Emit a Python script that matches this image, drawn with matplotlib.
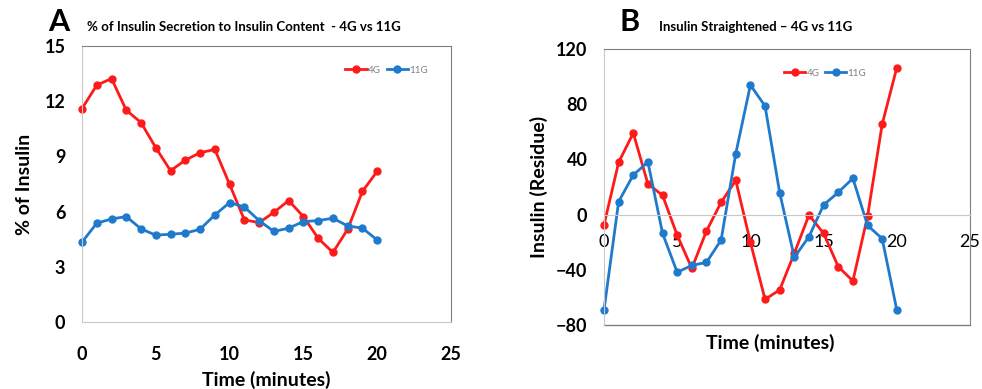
import matplotlib.pyplot as plt
from matplotlib.lines import Line2D

plt.rcParams['font.family'] = ['Lato', 'DejaVu Sans']

time = list(range(21))

# panel A: % of insulin secretion to insulin content
pct_4g = [11.6, 12.87, 13.23, 11.51, 10.84, 9.47, 8.22, 8.8, 9.2, 9.38, 7.48,
          5.55, 5.4, 5.96, 6.6, 5.73, 4.55, 3.78, 5.04, 7.1, 8.19]
pct_11g = [4.34, 5.37, 5.6, 5.73, 5.06, 4.72, 4.77, 4.83, 5.04, 5.82, 6.49,
           6.25, 5.51, 4.92, 5.1, 5.46, 5.51, 5.64, 5.22, 5.1, 4.46]

# panel B: insulin straightened (residue)
res_4g = [-7.5, 37.9, 59.1, 22.2, 14, -15, -38.9, -11.9, 8.9, 24.8, -20,
          -61.4, -54.6, -28, -0.3, -13.6, -37.7, -48.1, -1.3, 65.4, 106.5]
res_11g = [-69.1, 9.4, 28.7, 38.1, -13.6, -41.8, -36.8, -34.6, -18.4, 44.2, 93.9,
           78.7, 15.9, -31, -16, 7, 16.1, 26.3, -7.8, -17.4, -69.1]

xticks = [0, 5, 10, 15, 20, 25]
red = '#ff1a1a'
blue = '#1f7acc'
light = '#c8c8c8'
dark = '#808080'

fig = plt.figure(figsize=(9.82, 3.89), dpi=100)
W, H = 982, 389

def make_ax(l, r, t, b):
    return fig.add_axes([l / W, 1 - b / H, (r - l) / W, (b - t) / H])

def draw_lines(ax, y1, y2, leg_x):
    ax.plot(time, y1, color=red, lw=2, marker='o', ms=5, label='4G', clip_on=False)
    ax.plot(time, y2, color=blue, lw=2, marker='o', ms=5, label='11G', clip_on=False)
    leg = ax.legend(loc='upper right', ncol=2, frameon=False, fontsize=7,
                    handlelength=2.2, columnspacing=0.6, handletextpad=0.1,
                    bbox_to_anchor=(leg_x, 0.96))
    for t in leg.get_texts():
        t.set_color('#808080')
    ax.tick_params(length=0, labelsize=13)
    for lab in ax.get_xticklabels() + ax.get_yticklabels():
        lab.set_fontweight('bold')

# ---- panel A
axA = make_ax(82, 451, 46, 322)
axA.set_xlim(0, 25)
axA.set_ylim(0, 15)
axA.set_xticks(xticks)
axA.set_yticks([0, 3, 6, 9, 12, 15])
draw_lines(axA, pct_4g, pct_11g, 0.96)
axA.tick_params(axis='x', pad=17)
axA.tick_params(axis='y', pad=12)
axA.spines['left'].set_color(light)
axA.spines['bottom'].set_color(light)
axA.spines['top'].set_color(dark)
axA.spines['right'].set_color(dark)
axA.set_ylabel('% of Insulin', fontsize=14, fontweight='bold', labelpad=8)
axA.set_xlabel('Time (minutes)', fontsize=14, fontweight='bold', labelpad=6)
fig.text(48 / W, 1 - 22 / H, 'A', fontsize=22, fontweight='bold', va='center')
fig.text(87 / W, 1 - 27 / H, '% of Insulin Secretion to Insulin Content  - 4G vs 11G',
         fontsize=9.5, fontweight='bold', va='center')

# ---- panel B
axB = make_ax(604, 970, 49, 325)
axB.set_xlim(0, 25)
axB.set_ylim(-80, 120)
axB.set_xticks(xticks)
axB.set_yticks([-80, -40, 0, 40, 80, 120])
draw_lines(axB, res_4g, res_11g, 0.74)
axB.spines['bottom'].set_position(('data', 0))
axB.spines['bottom'].set_color(light)
axB.spines['left'].set_color(light)
axB.spines['top'].set_color(dark)
axB.spines['right'].set_color(dark)
axB.add_line(Line2D([0, 1], [0, 0], transform=axB.transAxes, color=dark,
                    lw=1, clip_on=False))
axB.tick_params(axis='x', pad=14)
axB.tick_params(axis='y', pad=12)
axB.set_ylabel('Insulin (Residue)', fontsize=14, fontweight='bold', labelpad=6)
fig.text(770 / W, 1 - 343 / H, 'Time (minutes)', fontsize=14, fontweight='bold',
         ha='center', va='center')
fig.text(620 / W, 1 - 22 / H, 'B', fontsize=22, fontweight='bold', va='center')
fig.text(659 / W, 1 - 27 / H, 'Insulin Straightened \u2013 4G vs 11G',
         fontsize=9.5, fontweight='bold', va='center')

fig.savefig('out.png', dpi=100)
